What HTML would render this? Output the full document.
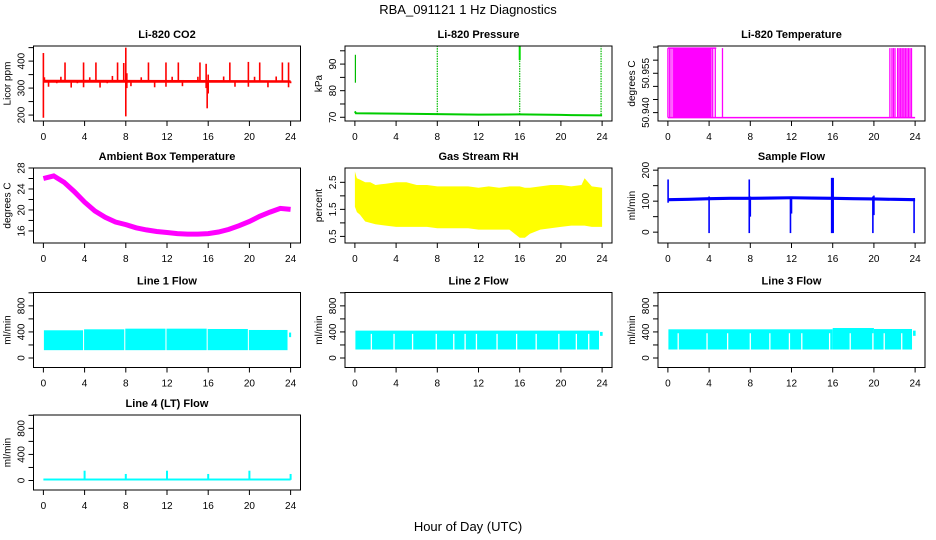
<!DOCTYPE html>
<html><head><meta charset="utf-8"><style>
html,body{margin:0;padding:0;background:#fff;}
svg{display:block;font-family:"Liberation Sans",Arial,sans-serif;}
</style></head><body>
<svg id="chart" width="936" height="540" viewBox="0 0 936 540">
<text x="468" y="14" text-anchor="middle" font-size="13">RBA_091121  1 Hz Diagnostics</text>
<text x="468" y="531" text-anchor="middle" font-size="13">Hour of Day (UTC)</text>
</svg>
<script>
// ---------- data ----------
const xTicks = [0,4,8,12,16,20,24];

const co2BandHours = [0,24];
const co2BandLow = [320,320];
const co2BandHigh = [331,329];
const co2SpikeHours = [0.0,0.1,0.5,1.3,1.7,2.1,2.7,3.3,3.9,4.5,5.1,5.5,6.2,6.7,7.2,7.8,8.0,8.1,8.5,9.5,10.2,10.8,11.9,12.5,13.1,13.5,15.0,15.2,15.8,15.9,16.0,17.5,18.1,18.6,19.9,20.5,21.0,21.8,22.6,23.2,23.8,24.0];
const co2SpikeTop = [430,340,325,325,342,395,325,325,395,340,395,325,325,345,395,393,450,355,325,340,395,325,395,342,395,325,342,395,390,325,350,343,395,325,397,342,395,325,343,395,395,325];
const co2SpikeBottom = [190,325,305,318,325,325,302,318,303,325,325,302,318,325,325,325,195,300,307,325,325,303,305,325,325,307,325,325,300,225,280,325,325,305,305,325,325,303,325,325,303,318];

const presBaseHours = [0,0.1,4,8,12,16,20,21,24];
const presBase = [72.2,71.5,71.4,71.2,71.0,71.1,70.9,70.8,70.7];
const presSpikeHours = [0.05,8.0,16.0,23.9];
const presSpikeTop = [93.5,97,97,96.5];
const presSpikeBottom = [83,71,71,71];

const tempHigh = 50.9646;
const tempLow = 50.9381;
const tempFillStart = [0.55,0.1];
const tempFillEnd = [4.25,0.2];
const tempLineHours = [0.0,0.3,0.5,4.35,4.6,5.3,21.55,21.75,21.9,22.05,22.3,22.45,22.6,22.75,22.9,23.05,23.2,23.35,23.5,23.65];

const ambHours = [0,1,2,3,4,5,6,7,8,9,10,11,12,13,14,15,16,17,18,19,20,21,22,23,24];
const ambTemp = [26,26.5,25.3,23.5,21.5,19.8,18.6,17.7,17.2,16.6,16.2,15.9,15.7,15.5,15.4,15.4,15.5,15.8,16.3,17.0,17.8,18.8,19.6,20.3,20.1];

const rhHours = [0,0.2,0.5,1,1.5,2,3,4,5,6,7,8,9,10,11,12,13,14,15,16,16.5,17,18,19,20,21,22,22.3,23,24];
const rhUpper = [2.9,2.65,2.6,2.5,2.5,2.4,2.45,2.5,2.5,2.4,2.4,2.35,2.35,2.35,2.35,2.3,2.35,2.3,2.35,2.35,2.3,2.3,2.35,2.4,2.4,2.35,2.4,2.65,2.35,2.3];
const rhLower = [1.6,1.4,1.3,1.05,1.0,0.95,0.9,0.85,0.85,0.85,0.85,0.8,0.8,0.8,0.8,0.75,0.75,0.75,0.75,0.45,0.45,0.6,0.75,0.8,0.85,0.9,0.9,0.9,0.85,0.85];

const sfHours = [0,2,4,6,8,10,12,14,16,18,20,22,24];
const sfBase = [105,106,108,109,109,110,111,110,109,108,107,106,105];
const sfSpikeHours = [0.02,4.0,7.9,8.0,11.9,12.0,15.9,16.0,19.9,20.0,23.9];
const sfSpikeTop = [170,115,170,115,115,115,175,175,115,118,110];
const sfSpikeBottom = [95,-3,-3,50,-3,60,-3,95,-3,55,-3];

const l1Start = [0.05,3.95,7.95,11.95,15.95,19.95];
const l1End = [3.85,7.85,11.85,15.85,19.85,23.7];
const l1Top = [425,440,450,450,445,430];
const l1Bottom = [120,120,120,120,120,120];

const l2Top = 420, l2Bottom = 130;
const l2Gaps = [1.6,3.8,5.6,7.9,9.6,10.7,11.8,13.8,15.7,17.6,19.8,21.5,22.7];
const l3Starts = [0.05,16.0,20.0];
const l3Ends = [16.0,20.0,23.7];
const l3Top = [440,460,445];
const l3Bottom = 130;
const l3Gaps = [1.0,3.8,5.8,8.0,9.9,11.8,13.0,15.7,17.7,19.9,21.0,22.7];

const l4SpikeHours = [4,8,12,16,20,24];
const l4SpikeTop = [150,100,150,100,150,100];

// ---------- layout ----------
const colX = [33.5,345,658];
const rowY = [46,168,292.5,415];
const W = 267, H = 75;
const NS = 'http://www.w3.org/2000/svg';
const svg = document.getElementById('chart');

function mk(parent, tag, attrs, name){
  const el = document.createElementNS(NS, tag);
  for (const k in attrs) el.setAttribute(k, attrs[k]);
  
  
  parent.appendChild(el);
  return el;
}

function panel(col,row,title,ylab,ymin,ymax,ticks,labels,name){
  const x0 = colX[col], y0 = rowY[row];
  const g = mk(svg,'g',{},name);
  const sx = h => x0 + (h + 0.96) / 25.92 * W;
  const sy = v => y0 + H - (v - ymin) / (ymax - ymin) * H;
  const plot = mk(g,'g',{},name+'-marks');
  mk(g,'rect',{x:x0,y:y0,width:W,height:H,fill:'none',stroke:'#000','stroke-width':1},name+'-frame');
  mk(g,'text',{x:x0+W/2,y:y0-8,'text-anchor':'middle','font-size':11,'font-weight':'bold'},name+'-title').textContent = title;
  xTicks.forEach(t=>{
    mk(g,'line',{x1:sx(t),x2:sx(t),y1:y0+H,y2:y0+H+5,stroke:'#000'},name+'-x-tick');
    mk(g,'text',{x:sx(t),y:y0+H+19,'text-anchor':'middle','font-size':10},name+'-x-tick-label').textContent = t;
  });
  ticks.forEach(t=>{
    mk(g,'line',{x1:x0-5,x2:x0,y1:sy(t),y2:sy(t),stroke:'#000'},name+'-y-tick');
  });
  labels.forEach(t=>{
    const yy = sy(parseFloat(t));
    mk(g,'text',{x:0,y:0,'text-anchor':'middle','font-size':10,transform:`translate(${x0-9},${yy}) rotate(-90)`},name+'-y-tick-label').textContent = t;
  });
  mk(g,'text',{x:0,y:0,'text-anchor':'middle','font-size':10,transform:`translate(${x0-23},${y0+H/2}) rotate(-90)`},name+'-y-axis-title').textContent = ylab;
  return {sx,sy,g:plot,name};
}
function vline(p,h,v1,v2,color,w,nm){
  mk(p.g,'line',{x1:p.sx(h),x2:p.sx(h),y1:p.sy(v1),y2:p.sy(v2),stroke:color,'stroke-width':w||1},nm);
}
function band(p,h1,h2,v1,v2,color,nm){
  const x=p.sx(h1), y=p.sy(Math.max(v1,v2));
  mk(p.g,'rect',{x:x,y:y,width:p.sx(h2)-x,height:p.sy(Math.min(v1,v2))-y,fill:color},nm);
}
function poly(p,hs,vs,color,w,nm){
  const pts = hs.map((h,i)=>p.sx(h).toFixed(1)+','+p.sy(vs[i]).toFixed(1)).join(' ');
  mk(p.g,'polyline',{points:pts,fill:'none',stroke:color,'stroke-width':w},nm);
}
function area(p,hs,up,lo,color,nm){
  const a = hs.map((h,i)=>p.sx(h).toFixed(1)+','+p.sy(up[i]).toFixed(1));
  const b = hs.map((h,i)=>p.sx(h).toFixed(1)+','+p.sy(lo[i]).toFixed(1)).reverse();
  mk(p.g,'polygon',{points:a.concat(b).join(' '),fill:color},nm);
}

// CO2
let p = panel(0,0,'Li-820 CO2','Licor ppm',178,456,[200,250,300,350,400,450],['200','300','400'],'co2-panel');
co2BandHours.slice(0,-1).forEach((h,i)=>{
  mk(p.g,'polygon',{points:[p.sx(h)+','+p.sy(co2BandHigh[i]),p.sx(co2BandHours[i+1])+','+p.sy(co2BandHigh[i+1]),p.sx(co2BandHours[i+1])+','+p.sy(co2BandLow[i+1]),p.sx(h)+','+p.sy(co2BandLow[i])].join(' '),fill:'#ff0000'},'co2-baseline');
});
co2SpikeHours.forEach((h,i)=>vline(p,h,co2SpikeBottom[i],co2SpikeTop[i],'#ff0000',1.6,'co2-spike'));

// Pressure
p = panel(1,0,'Li-820 Pressure','kPa',68.6,96.8,[70,75,80,85,90,95],['70','80','90'],'pressure-panel');
poly(p,presBaseHours,presBase,'#00cc00',2,'pressure-line');
presSpikeHours.forEach((h,i)=>mk(p.g,'line',{x1:p.sx(h),x2:p.sx(h),y1:p.sy(presSpikeBottom[i]),y2:p.sy(presSpikeTop[i]),stroke:'#00bb00','stroke-width':1.2,'stroke-dasharray':i===0?'none':'1.5,1'},'pressure-spike'));
vline(p,16.0,91.5,97,'#00dd00',2,'pressure-spike-thick');

// Temperature
p = panel(2,0,'Li-820 Temperature','degrees C',50.9368,50.9654,[50.940,50.945,50.950,50.955,50.960,50.965],['50.940','50.955'],'li820-temp-panel');
poly(p,[0,24.0],[tempLow,tempLow],'#ff00ff',1.5,'temp-low-line');
tempFillStart.forEach((h,i)=>band(p,h,tempFillEnd[i],tempLow,tempHigh,'#ff00ff','temp-fill'));
tempLineHours.forEach(h=>vline(p,h,tempLow,tempHigh,'#ff00ff',1.3,'temp-switch-line'));
poly(p,[0,4.7],[tempHigh,tempHigh],'#ff00ff',1.5,'temp-high-line');

// Ambient
p = panel(0,1,'Ambient Box Temperature','degrees C',13.7,28,[16,18,20,22,24,26,28],['16','20','24','28'],'ambient-temp-panel');
poly(p,ambHours,ambTemp,'#ff00ff',5,'ambient-temp-line');

// RH
p = panel(1,1,'Gas Stream RH','percent',0.256,3.03,[0.5,1.0,1.5,2.0,2.5],['0.5','1.5','2.5'],'rh-panel');
area(p,rhHours,rhUpper,rhLower,'#ffff00','rh-band');

// Sample flow
p = panel(2,1,'Sample Flow','ml/min',-35,207,[0,50,100,150,200],['0','100','200'],'sample-flow-panel');
area(p,sfHours,sfBase.map(v=>v+5),sfBase.map(v=>v-5),'#0000ff','sample-flow-band');
sfSpikeHours.forEach((h,i)=>vline(p,h,sfSpikeBottom[i],sfSpikeTop[i],'#0000ff',1.6,'sample-flow-spike'));
vline(p,16.0,-3,175,'#0000ff',2.5,'sample-flow-spike-16');

// Line 1
const flowTicks=[0,200,400,600,800,1000], flowLabels=['0','400','800'];
p = panel(0,2,'Line 1 Flow','ml/min',-146,1005,flowTicks,flowLabels,'line1-flow-panel');
l1Start.forEach((h,i)=>band(p,h,l1End[i],l1Bottom[i],l1Top[i],'#00ffff','line1-flow-band'));
band(p,23.85,24.05,320,390,'#00ffff','line1-flow-end');

// Line 2
p = panel(1,2,'Line 2 Flow','ml/min',-146,1005,flowTicks,flowLabels,'line2-flow-panel');
band(p,0.05,23.7,l2Bottom,l2Top,'#00ffff','line2-flow-band');
l2Gaps.forEach(h=>vline(p,h,l2Bottom-5,370,'#ffffff',1.3,'line2-flow-gap'));
band(p,23.8,24.05,340,400,'#00ffff','line2-flow-end');

// Line 3
p = panel(2,2,'Line 3 Flow','ml/min',-146,1005,flowTicks,flowLabels,'line3-flow-panel');
l3Starts.forEach((h,i)=>band(p,h,l3Ends[i],l3Bottom,l3Top[i],'#00ffff','line3-flow-band'));
l3Gaps.forEach(h=>vline(p,h,l3Bottom-5,380,'#ffffff',1.3,'line3-flow-gap'));
band(p,23.8,24.05,340,420,'#00ffff','line3-flow-end');

// Line 4
p = panel(0,3,'Line 4 (LT) Flow','ml/min',-146,1005,flowTicks,flowLabels,'line4-flow-panel');
band(p,0,24,0,30,'#00ffff','line4-flow-baseline');
l4SpikeHours.forEach((h,i)=>vline(p,h,10,l4SpikeTop[i],'#00ffff',2,'line4-flow-spike'));
</script>
</body></html>
